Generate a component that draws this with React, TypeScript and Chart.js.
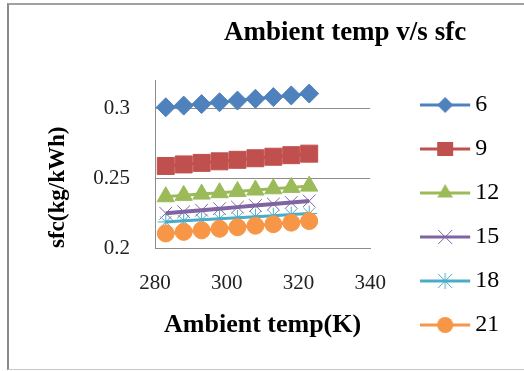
import React, { useEffect, useRef } from "react";
import { Chart, registerables } from "chart.js";

Chart.register(...registerables);

const FONT = '"Liberation Serif", "Times New Roman", serif';

// ---- data ----
const ambientTemps = [283, 288, 293, 298, 303, 308, 313, 318, 323];
const seriesNames = ["6", "9", "12", "15", "18", "21"];
const sfc6 = [0.3005, 0.3017, 0.3028, 0.3041, 0.3053, 0.3066, 0.3078, 0.309, 0.3103];
const sfc9 = [0.2586, 0.2597, 0.2608, 0.2619, 0.263, 0.2641, 0.2652, 0.2663, 0.2674];
const sfc12 = [0.2366, 0.2376, 0.2385, 0.2395, 0.2404, 0.2414, 0.2423, 0.2433, 0.2442];
const sfc15 = [0.2248, 0.2259, 0.227, 0.2281, 0.2292, 0.2303, 0.2314, 0.2325, 0.2336];
const sfc18 = [0.2186, 0.2194, 0.2201, 0.2209, 0.2216, 0.2224, 0.2231, 0.2239, 0.2246];
const sfc21 = [0.2104, 0.2115, 0.2126, 0.2137, 0.2148, 0.2159, 0.217, 0.2181, 0.2192];
const xTickValues = [280, 300, 320, 340];
const yTickValues = [0.2, 0.25, 0.3];
const chartTitle = "Ambient temp v/s sfc";
const xAxisTitle = "Ambient temp(K)";
const yAxisTitle = "sfc(kg/kWh)";

const allSeries = [sfc6, sfc9, sfc12, sfc15, sfc18, sfc21];
const colors = ["#4F81BD", "#C0504D", "#9BBB59", "#8064A2", "#4BACC6", "#F79646"];
const pointStyles = ["rectRot", "rect", "triangle", "crossRot", "star", "circle"];
const pointRadii = [9.5, 12, 10, 9, 8, 8.5];
const filled = [true, true, true, false, false, true];

// legend icon: 50px line with marker, placed in a 62px wide canvas (12px blank at right)
function makeIcon(i: number): HTMLCanvasElement {
  const c = document.createElement("canvas");
  c.width = 62;
  c.height = 24;
  const ctx = c.getContext("2d")!;
  const col = colors[i];
  const cx = 25;
  const cy = 12;
  ctx.strokeStyle = col;
  ctx.fillStyle = col;
  ctx.lineWidth = 3;
  ctx.beginPath();
  ctx.moveTo(0, cy);
  ctx.lineTo(50, cy);
  ctx.stroke();
  ctx.lineWidth = 1;
  ctx.beginPath();
  const s = pointStyles[i];
  if (s === "rectRot") {
    const r = 8;
    ctx.moveTo(cx - r, cy);
    ctx.lineTo(cx, cy - r);
    ctx.lineTo(cx + r, cy);
    ctx.lineTo(cx, cy + r);
    ctx.closePath();
    ctx.fill();
  } else if (s === "rect") {
    ctx.rect(cx - 8, cy - 7, 16, 14);
    ctx.fill();
  } else if (s === "triangle") {
    const r = 9;
    ctx.moveTo(cx, cy - r);
    ctx.lineTo(cx + r * 0.866, cy + r / 2);
    ctx.lineTo(cx - r * 0.866, cy + r / 2);
    ctx.closePath();
    ctx.fill();
  } else if (s === "crossRot") {
    const r = 7;
    ctx.moveTo(cx - r, cy - r);
    ctx.lineTo(cx + r, cy + r);
    ctx.moveTo(cx + r, cy - r);
    ctx.lineTo(cx - r, cy + r);
    ctx.stroke();
  } else if (s === "star") {
    const r = 7;
    ctx.moveTo(cx - r, cy - r);
    ctx.lineTo(cx + r, cy + r);
    ctx.moveTo(cx + r, cy - r);
    ctx.lineTo(cx - r, cy + r);
    ctx.moveTo(cx, cy - r - 1);
    ctx.lineTo(cx, cy + r + 1);
    ctx.stroke();
  } else {
    ctx.arc(cx, cy, 8, 0, Math.PI * 2);
    ctx.fill();
  }
  return c;
}

const titlePlugin = {
  id: "customTitle",
  afterDraw(chart: any) {
    const ctx = chart.ctx;
    ctx.save();
    ctx.font = `bold 27px ${FONT}`;
    ctx.fillStyle = "#000";
    ctx.textAlign = "center";
    ctx.textBaseline = "middle";
    ctx.fillText(chartTitle, 345, 33);
    ctx.restore();
  },
};

export default function App() {
  const ref = useRef<HTMLCanvasElement>(null);

  useEffect(() => {
    const canvas = ref.current!;
    const icons = seriesNames.map((_, i) => makeIcon(i));
    const datasets = seriesNames.map((name, i) => ({
      label: name,
      data: ambientTemps.map((t, j) => ({ x: t, y: allSeries[i][j] })),
      borderColor: colors[i],
      backgroundColor: colors[i],
      borderWidth: i === 3 ? 4 : 3,
      pointStyle: pointStyles[i] as any,
      pointRadius: pointRadii[i],
      pointBackgroundColor: filled[i] ? colors[i] : "rgba(0,0,0,0)",
      pointBorderColor: colors[i],
      pointBorderWidth: 1,
      tension: 0,
      fill: false,
      order: seriesNames.length - i,
    }));

    const chart = new Chart(canvas, {
      type: "line",
      data: { datasets },
      plugins: [titlePlugin],
      options: {
        responsive: false,
        animation: false,
        layout: { padding: { top: 40, left: 0, right: 21, bottom: 14 } },
        plugins: {
          title: { display: false },
          tooltip: { enabled: false },
          legend: {
            position: "right",
            align: "end",
            labels: {
              usePointStyle: true,
              boxHeight: 24,
              padding: 20,
              color: "#000",
              font: { family: FONT, size: 24 },
              generateLabels: (ch: any) =>
                ch.data.datasets.map((ds: any, i: number) => ({
                  text: ds.label,
                  pointStyle: icons[i],
                  fillStyle: colors[i],
                  strokeStyle: colors[i],
                  lineWidth: 0,
                  hidden: false,
                  datasetIndex: i,
                })),
            },
          },
        },
        scales: {
          x: {
            type: "linear",
            min: 280,
            max: 340,
            afterBuildTicks: (scale: any) => {
              scale.ticks = xTickValues.map((v) => ({ value: v }));
            },
            afterFit: (scale: any) => {
              scale.height = 109;
            },
            grid: { display: false, drawTicks: false },
            border: { display: true, color: "#8c8c8c", width: 1 },
            ticks: {
              padding: 23,
              color: "#222",
              font: { family: FONT, size: 21 },
              maxRotation: 0,
            },
            title: {
              display: true,
              text: xAxisTitle,
              color: "#000",
              font: { family: FONT, size: 26, weight: "bold" },
              padding: { top: 0, bottom: 16 },
            },
          },
          xTop: {
            type: "linear",
            position: "top",
            display: true,
            afterFit: (scale: any) => {
              scale.height = 40;
            },
            grid: { display: false, drawTicks: false },
            border: { display: false },
            ticks: { display: false },
          },
          y: {
            type: "linear",
            min: 0.2,
            max: 0.32,
            afterBuildTicks: (scale: any) => {
              scale.ticks = yTickValues.map((v) => ({ value: v }));
            },
            afterFit: (scale: any) => {
              scale.width = 155;
            },
            grid: { display: true, color: "#8c8c8c", lineWidth: 1, drawTicks: false },
            border: { display: true, color: "#8c8c8c", width: 1 },
            ticks: {
              padding: 25,
              color: "#222",
              font: { family: FONT, size: 21 },
              callback: (v: any) => String(Number(v)),
            },
            title: {
              display: true,
              text: yAxisTitle,
              align: "start",
              color: "#000",
              font: { family: FONT, size: 23, weight: "bold" },
              padding: { top: 44, bottom: 0 },
            },
          },
          yR: {
            type: "linear",
            position: "right",
            display: true,
            afterFit: (scale: any) => {
              scale.width = 49;
            },
            grid: { display: false, drawTicks: false },
            border: { display: false },
            ticks: { display: false },
          },
        },
      },
    });
    return () => chart.destroy();
  }, []);

  return (
    <div style={{ position: "fixed", left: 0, top: 0, width: 524, height: 371, background: "#fff", overflow: "hidden" }}>
      <div
        style={{
          position: "absolute",
          left: 7,
          top: 3,
          width: 560,
          height: 367,
          borderLeft: "2px solid #8a8a8a",
          borderTop: "2px solid #a0a0a0",
          borderBottom: "1px solid #c8c8c8",
          boxSizing: "border-box",
        }}
      />
      <canvas ref={ref} width={524} height={371} style={{ position: "absolute", left: 0, top: 0 }} />
    </div>
  );
}
